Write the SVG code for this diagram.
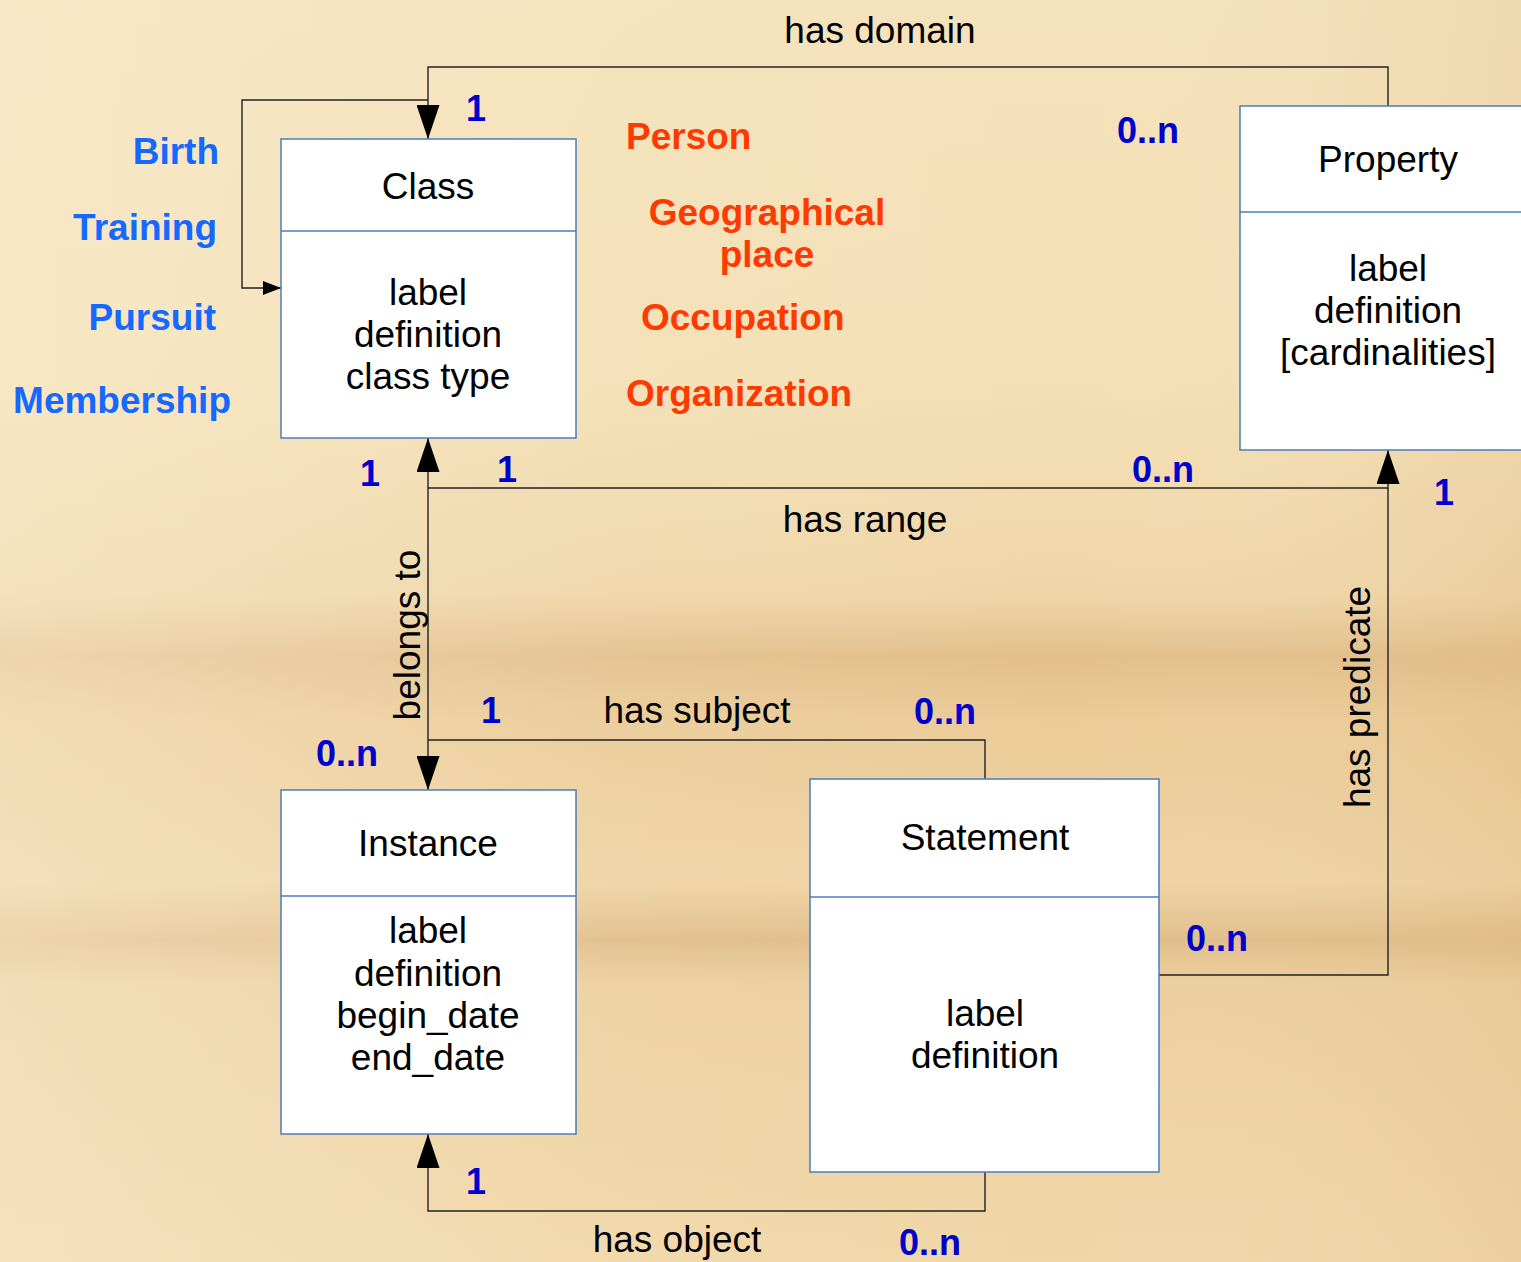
<svg xmlns="http://www.w3.org/2000/svg" width="1521" height="1262" viewBox="0 0 1521 1262">
<defs>
<linearGradient id="bg" x1="0" y1="0" x2="0" y2="1">
<stop offset="0" stop-color="#f4e2bb"/>
<stop offset="0.3" stop-color="#f4e0b6"/>
<stop offset="0.47" stop-color="#efd6a8"/>
<stop offset="0.52" stop-color="#e2bf8c"/>
<stop offset="0.57" stop-color="#ebcb98"/>
<stop offset="0.7" stop-color="#eed3a3"/>
<stop offset="0.745" stop-color="#e0bd8a"/>
<stop offset="0.78" stop-color="#eccf9e"/>
<stop offset="1" stop-color="#f0d7a8"/>
</linearGradient>
<linearGradient id="bgh" x1="0" y1="0" x2="1" y2="0">
<stop offset="0" stop-color="#fbf0d6" stop-opacity="0.45"/>
<stop offset="0.4" stop-color="#fbf0d6" stop-opacity="0.1"/>
<stop offset="0.7" stop-color="#fbf0d6" stop-opacity="0"/>
<stop offset="1" stop-color="#d9b47e" stop-opacity="0.2"/>
</linearGradient>
<marker id="arr" viewBox="0 0 34 23" markerWidth="34" markerHeight="23" refX="34" refY="11.5" orient="auto" markerUnits="userSpaceOnUse">
<path d="M0,0 L34,11.5 L0,23 Z" fill="#000"/>
</marker>
<marker id="arrS" viewBox="0 0 18 14" markerWidth="18" markerHeight="14" refX="18" refY="7" orient="auto" markerUnits="userSpaceOnUse">
<path d="M0,0 L18,7 L0,14 Z" fill="#000"/>
</marker>
</defs>
<style>
.box{fill:#fff;stroke:#4a7ebb;stroke-width:1.5}
.div{stroke:#4a7ebb;stroke-width:1.5}
.t{font-family:"Liberation Sans",Arial,sans-serif;font-size:37px;fill:#000;text-anchor:middle}
.lbl{font-family:"Liberation Sans",Arial,sans-serif;font-size:37px;fill:#000;text-anchor:middle}
.m{font-family:"Liberation Sans",Arial,sans-serif;font-size:36px;font-weight:bold;fill:#0000cc;text-anchor:middle}
.bl{font-family:"Liberation Sans",Arial,sans-serif;font-size:37px;font-weight:bold;fill:#1569ff;text-anchor:end}
.rd{font-family:"Liberation Sans",Arial,sans-serif;font-size:37px;font-weight:bold;fill:#ff3a00}
.c{fill:none;stroke:#222;stroke-width:1.4}
</style>
<rect width="1521" height="1262" fill="url(#bg)"/>
<rect width="1521" height="1262" fill="url(#bgh)"/>

<g id="connectors">
<polyline id="has-domain" class="c" points="1388,106 1388,67 428,67 428,139" marker-end="url(#arr)"/>
<polyline id="self-loop" class="c" points="428,100 242,100 242,288 281,288" marker-end="url(#arrS)"/>
<line id="belongs-to-up" class="c" x1="428" y1="600" x2="428" y2="438" marker-end="url(#arr)"/>
<line id="belongs-to-down" class="c" x1="428" y1="600" x2="428" y2="790" marker-end="url(#arr)"/>
<polyline id="has-range" class="c" points="428,488 1388,488 1388,450" marker-end="url(#arr)"/>
<polyline id="has-predicate" class="c" points="1159,975 1388,975 1388,488"/>
<polyline id="has-subject" class="c" points="985,779 985,740 428,740"/>
<polyline id="has-object" class="c" points="985,1172 985,1211 428,1211 428,1134" marker-end="url(#arr)"/>
</g>

<g id="node-class">
<rect class="box" x="281" y="139" width="295" height="299"/>
<line class="div" x1="281" y1="231" x2="576" y2="231"/>
<text class="t" x="428" y="199">Class</text>
<text class="t" x="428" y="305">label</text>
<text class="t" x="428" y="347">definition</text>
<text class="t" x="428" y="389">class type</text>
</g>

<g id="node-property">
<rect class="box" x="1240" y="106" width="290" height="344"/>
<line class="div" x1="1240" y1="212" x2="1530" y2="212"/>
<text class="t" x="1388" y="172">Property</text>
<text class="t" x="1388" y="281">label</text>
<text class="t" x="1388" y="323">definition</text>
<text class="t" x="1388" y="365">[cardinalities]</text>
</g>

<g id="node-instance">
<rect class="box" x="281" y="790" width="295" height="344"/>
<line class="div" x1="281" y1="896" x2="576" y2="896"/>
<text class="t" x="428" y="856">Instance</text>
<text class="t" x="428" y="943">label</text>
<text class="t" x="428" y="986">definition</text>
<text class="t" x="428" y="1028">begin_date</text>
<text class="t" x="428" y="1070">end_date</text>
</g>

<g id="node-statement">
<rect class="box" x="810" y="779" width="349" height="393"/>
<line class="div" x1="810" y1="897" x2="1159" y2="897"/>
<text class="t" x="985" y="850">Statement</text>
<text class="t" x="985" y="1026">label</text>
<text class="t" x="985" y="1068">definition</text>
</g>

<g id="connector-labels">
<text class="lbl" x="880" y="43">has domain</text>
<text class="lbl" x="865" y="532">has range</text>
<text class="lbl" x="697" y="723">has subject</text>
<text class="lbl" x="677" y="1252">has object</text>
<text class="lbl" transform="translate(420,635) rotate(-90)">belongs to</text>
<text class="lbl" transform="translate(1370,697) rotate(-90)">has predicate</text>
</g>

<g id="multiplicities">
<text class="m" x="476" y="121">1</text>
<text class="m" x="1148" y="143">0..n</text>
<text class="m" x="370" y="486">1</text>
<text class="m" x="507" y="482">1</text>
<text class="m" x="1163" y="482">0..n</text>
<text class="m" x="1444" y="505">1</text>
<text class="m" x="491" y="723">1</text>
<text class="m" x="945" y="724">0..n</text>
<text class="m" x="347" y="766">0..n</text>
<text class="m" x="1217" y="951">0..n</text>
<text class="m" x="476" y="1194">1</text>
<text class="m" x="930" y="1255">0..n</text>
</g>

<g id="class-types">
<text class="bl" x="219" y="164">Birth</text>
<text class="bl" x="217" y="240">Training</text>
<text class="bl" x="216" y="330">Pursuit</text>
<text class="bl" x="231" y="413">Membership</text>
</g>

<g id="instances">
<text class="rd" x="626" y="149">Person</text>
<text class="rd" x="767" y="225" text-anchor="middle">Geographical</text>
<text class="rd" x="767" y="267" text-anchor="middle">place</text>
<text class="rd" x="641" y="330">Occupation</text>
<text class="rd" x="626" y="406">Organization</text>
</g>
</svg>
